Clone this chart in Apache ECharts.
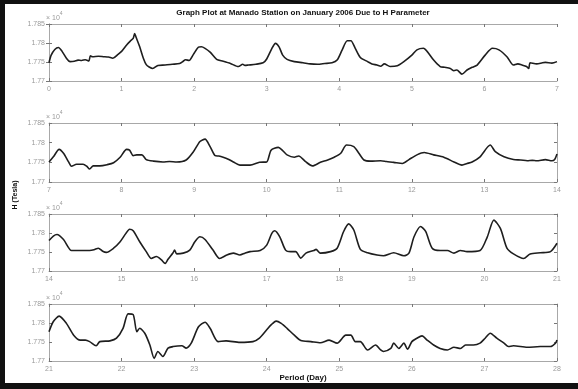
<!DOCTYPE html>
<html>
<head>
<meta charset="utf-8">
<script src="https://cdn.jsdelivr.net/npm/echarts@6/dist/echarts.min.js"></script>
<style>
html,body{margin:0;padding:0;background:#fff;}
#chart{width:578px;height:389px;}
</style>
</head>
<body>
<div id="chart"></div>
<script>
// ---- DATA ----
const titleText = 'Graph Plot at Manado Station on January 2006 Due to H Parameter';
const xLabelText = 'Period (Day)';
const yLabelText = 'H (Tesla)';
const yTicks = [17700, 17750, 17800, 17850];
const yTickLabels = ['1.77', '1.775', '1.78', '1.785'];
const panelRanges = [[0, 7], [7, 14], [14, 21], [21, 28]];

const days1 = [
0, 0.03, 0.08, 0.13, 0.18, 0.24, 0.29, 0.35, 0.4, 0.45,
0.5, 0.55, 0.57, 0.6, 0.68, 0.75, 0.82, 0.88, 0.95, 1.0,
1.07, 1.12, 1.16, 1.18, 1.2, 1.25, 1.3, 1.34, 1.38, 1.43,
1.5, 1.6, 1.7, 1.8, 1.85, 1.88, 1.93, 1.99, 2.06, 2.1,
2.15, 2.22, 2.31, 2.4, 2.5, 2.61, 2.67, 2.7, 2.75, 2.85,
2.95, 3.0, 3.07, 3.12, 3.17, 3.22, 3.28, 3.38, 3.5, 3.6,
3.7, 3.8, 3.9, 3.97, 4.04, 4.11, 4.16, 4.22, 4.29, 4.39,
4.45, 4.52, 4.57, 4.62, 4.7, 4.8, 4.89, 5.0, 5.07, 5.16,
5.21, 5.3, 5.39, 5.45, 5.53, 5.58, 5.62, 5.69, 5.76, 5.83,
5.9, 6.01, 6.11, 6.2, 6.31, 6.4, 6.46, 6.52, 6.58, 6.61,
6.63, 6.72, 6.8, 6.84, 6.93, 7.0];
const h1 = [
17748, 17768, 17783, 17788, 17778, 17760, 17751, 17752, 17755, 17754,
17756, 17753, 17766, 17764, 17765, 17764, 17763, 17760, 17770, 17778,
17795, 17805, 17812, 17825, 17815, 17790, 17760, 17743, 17737, 17733,
17741, 17742, 17744, 17746, 17752, 17756, 17754, 17770, 17789, 17790,
17786, 17776, 17757, 17752, 17746, 17738, 17744, 17741, 17742, 17744,
17748, 17758, 17785, 17799, 17790, 17768, 17757, 17751, 17748, 17745,
17744, 17746, 17748, 17755, 17782, 17806, 17806, 17786, 17762, 17751,
17745, 17742, 17739, 17745, 17738, 17740, 17751, 17768, 17782, 17786,
17778, 17755, 17738, 17736, 17733, 17727, 17729, 17718, 17729, 17736,
17742, 17768, 17786, 17782, 17764, 17742, 17745, 17742, 17738, 17733,
17748, 17745, 17748, 17749, 17747, 17751];

const days2 = [
7.0, 7.06, 7.14, 7.2, 7.27, 7.31, 7.38, 7.47, 7.52, 7.56,
7.61, 7.7, 7.8, 7.89, 7.98, 8.07, 8.11, 8.16, 8.21, 8.28,
8.34, 8.44, 8.57, 8.66, 8.76, 8.89, 8.99, 9.08, 9.15, 9.22,
9.29, 9.34, 9.4, 9.47, 9.54, 9.63, 9.7, 9.77, 9.9, 10.0,
10.06, 10.16, 10.22, 10.28, 10.38, 10.44, 10.54, 10.63, 10.74, 10.84,
10.93, 11.02, 11.1, 11.2, 11.27, 11.34, 11.43, 11.57, 11.65, 11.75,
11.87, 11.96, 12.07, 12.17, 12.3, 12.44, 12.58, 12.69, 12.76, 12.83,
12.94, 13.08, 13.15, 13.27, 13.4, 13.5, 13.59, 13.66, 13.72, 13.84,
13.93, 13.97, 14.0];
const h2 = [
17751, 17764, 17783, 17773, 17751, 17740, 17745, 17745, 17740, 17733,
17741, 17741, 17744, 17749, 17763, 17783, 17781, 17767, 17769, 17769,
17757, 17753, 17751, 17752, 17751, 17756, 17777, 17803, 17809, 17790,
17767, 17766, 17763, 17758, 17751, 17743, 17743, 17743, 17750, 17751,
17781, 17788, 17780, 17769, 17763, 17766, 17751, 17741, 17750, 17756,
17763, 17773, 17794, 17790, 17773, 17756, 17753, 17754, 17752, 17750,
17747, 17757, 17769, 17775, 17769, 17763, 17751, 17743, 17747, 17751,
17764, 17794, 17777, 17764, 17757, 17756, 17754, 17755, 17754, 17757,
17754, 17758, 17771];

const days3 = [
14.0, 14.06, 14.11, 14.2, 14.31, 14.4, 14.47, 14.56, 14.62, 14.68,
14.74, 14.79, 14.89, 14.98, 15.06, 15.11, 15.16, 15.25, 15.34, 15.41,
15.48, 15.55, 15.6, 15.64, 15.71, 15.73, 15.76, 15.85, 15.94, 16.01,
16.08, 16.15, 16.26, 16.35, 16.45, 16.54, 16.63, 16.7, 16.77, 16.91,
17.0, 17.07, 17.11, 17.18, 17.26, 17.33, 17.4, 17.47, 17.54, 17.65,
17.68, 17.74, 17.88, 17.97, 18.06, 18.13, 18.2, 18.29, 18.39, 18.52,
18.61, 18.75, 18.89, 18.96, 19.03, 19.12, 19.19, 19.28, 19.39, 19.49,
19.58, 19.67, 19.76, 19.94, 20.04, 20.13, 20.22, 20.31, 20.4, 20.54,
20.63, 20.77, 20.91, 21.0];
const h3 = [
17780, 17792, 17796, 17783, 17754, 17754, 17754, 17754, 17756, 17760,
17752, 17749, 17760, 17777, 17799, 17810, 17806, 17777, 17751, 17733,
17738, 17729, 17720, 17731, 17748, 17755, 17745, 17747, 17755, 17777,
17790, 17783, 17755, 17733, 17742, 17747, 17742, 17747, 17751, 17754,
17768, 17799, 17806, 17790, 17755, 17751, 17751, 17734, 17747, 17754,
17757, 17747, 17751, 17760, 17804, 17824, 17808, 17757, 17748, 17742,
17740, 17748, 17740, 17747, 17790, 17817, 17804, 17760, 17754, 17754,
17747, 17754, 17751, 17754, 17790, 17834, 17812, 17760, 17745, 17733,
17745, 17748, 17751, 17773];

const days4 = [
21.0, 21.06, 21.14, 21.24, 21.34, 21.43, 21.5, 21.56, 21.65, 21.7,
21.84, 21.93, 22.02, 22.09, 22.16, 22.21, 22.25, 22.32, 22.39, 22.45,
22.5, 22.57, 22.64, 22.71, 22.83, 22.89, 22.96, 23.06, 23.15, 23.22,
23.33, 23.44, 23.63, 23.81, 23.9, 24.0, 24.06, 24.13, 24.2, 24.28,
24.38, 24.47, 24.61, 24.74, 24.86, 24.97, 25.09, 25.16, 25.22, 25.29,
25.39, 25.5, 25.57, 25.61, 25.71, 25.75, 25.82, 25.89, 25.94, 26.0,
26.07, 26.14, 26.21, 26.3, 26.39, 26.49, 26.58, 26.67, 26.74, 26.85,
26.94, 27.01, 27.08, 27.17, 27.27, 27.33, 27.4, 27.59, 27.77, 27.91,
27.98, 28.0];
const h4 = [
17777, 17804, 17818, 17799, 17768, 17755, 17755, 17751, 17740, 17751,
17753, 17760, 17786, 17824, 17822, 17777, 17786, 17773, 17742, 17707,
17725, 17712, 17734, 17738, 17740, 17734, 17747, 17790, 17802, 17786,
17751, 17753, 17749, 17751, 17760, 17782, 17795, 17805, 17799, 17786,
17768, 17754, 17751, 17748, 17755, 17747, 17768, 17768, 17751, 17751,
17729, 17742, 17729, 17725, 17733, 17747, 17733, 17747, 17731, 17751,
17760, 17766, 17755, 17742, 17733, 17729, 17736, 17733, 17742, 17742,
17747, 17760, 17773, 17760, 17747, 17738, 17740, 17736, 17738, 17738,
17747, 17755];

const panelDays = [days1, days2, days3, days4];
const panelH = [h1, h2, h3, h4];

// ---- LAYOUT ----
const plotLeft = 49, plotRight = 557;
const plotTops = [24, 123, 214, 304];
const plotHeights = [57, 59, 57, 57];

const chart = echarts.init(document.getElementById('chart'), null, {renderer: 'canvas'});

const grids = [], xAxes = [], yAxes = [], series = [], graphics = [];
const axisColor = '#a8a8a8';
const labelStyle = {color: '#9a9a9a', fontSize: 7, fontFamily: 'Liberation Sans'};

panelRanges.forEach((r, i) => {
  grids.push({left: plotLeft, width: plotRight - plotLeft, top: plotTops[i], height: plotHeights[i], containLabel: false});
  // bottom x axis
  xAxes.push({
    type: 'value', gridIndex: i, min: r[0], max: r[1], interval: 1, position: 'bottom',
    axisLine: {show: true, lineStyle: {color: axisColor, width: 1}},
    axisTick: {show: true, inside: true, length: 3, lineStyle: {color: '#777'}},
    axisLabel: Object.assign({margin: 5}, labelStyle),
    splitLine: {show: false}
  });
  // top mirror x axis
  xAxes.push({
    type: 'value', gridIndex: i, min: r[0], max: r[1], interval: 1, position: 'top',
    axisLine: {show: true, lineStyle: {color: axisColor, width: 1}},
    axisTick: {show: true, inside: true, length: 3, lineStyle: {color: '#777'}},
    axisLabel: {show: false}, splitLine: {show: false}
  });
  yAxes.push({
    type: 'value', gridIndex: i, min: yTicks[0], max: yTicks[yTicks.length - 1], interval: 50, position: 'left',
    axisLine: {show: true, lineStyle: {color: axisColor, width: 1}},
    axisTick: {show: true, inside: true, length: 3, lineStyle: {color: '#777'}},
    axisLabel: Object.assign({margin: 4, formatter: v => yTickLabels[yTicks.indexOf(v)] || ''}, labelStyle),
    splitLine: {show: false}
  });
  yAxes.push({
    type: 'value', gridIndex: i, min: yTicks[0], max: yTicks[yTicks.length - 1], interval: 50, position: 'right',
    axisLine: {show: true, lineStyle: {color: axisColor, width: 1}},
    axisTick: {show: true, inside: true, length: 3, lineStyle: {color: '#777'}},
    axisLabel: {show: false}, splitLine: {show: false}
  });
  series.push({
    type: 'line', xAxisIndex: i * 2, yAxisIndex: i * 2,
    data: panelDays[i].map((d, k) => [d, panelH[i][k]]),
    showSymbol: false, smooth: 0.25,
    lineStyle: {color: '#1e1e1e', width: 1.6},
    animation: false
  });
  graphics.push({
    type: 'text', left: plotLeft - 3, top: plotTops[i] - 13,
    style: {
      text: '{a|× 10}{b|4}',
      rich: {
        a: {fontSize: 7, fill: '#9a9a9a', fontFamily: 'Liberation Sans', verticalAlign: 'bottom', padding: [4, 0, 0, 0]},
        b: {fontSize: 5, fill: '#9a9a9a', fontFamily: 'Liberation Sans', verticalAlign: 'top'}
      }
    }
  });
});

// frame bars (scan border)
graphics.push({type: 'rect', left: 0, top: 0, shape: {width: 5, height: 389}, style: {fill: '#111'}});
graphics.push({type: 'rect', left: 0, top: 0, shape: {width: 578, height: 4}, style: {fill: '#111'}});
graphics.push({type: 'rect', left: 0, top: 383, shape: {width: 578, height: 6}, style: {fill: '#111'}});

// title and axis labels
graphics.push({type: 'text', x: 303, y: 9, style: {text: titleText, font: 'bold 8px "Liberation Sans"', fill: '#111', textAlign: 'center'}});
graphics.push({type: 'text', x: 303, y: 374, style: {text: xLabelText, font: 'bold 8px "Liberation Sans"', fill: '#111', textAlign: 'center'}});
graphics.push({type: 'text', x: 15, y: 195, rotation: Math.PI / 2, style: {text: yLabelText, font: 'bold 7px "Liberation Sans"', fill: '#111', textAlign: 'center', textVerticalAlign: 'middle'}});

chart.setOption({
  backgroundColor: '#ffffff',
  animation: false,
  grid: grids,
  xAxis: xAxes,
  yAxis: yAxes,
  series: series,
  graphic: graphics
});
</script>
</body>
</html>
